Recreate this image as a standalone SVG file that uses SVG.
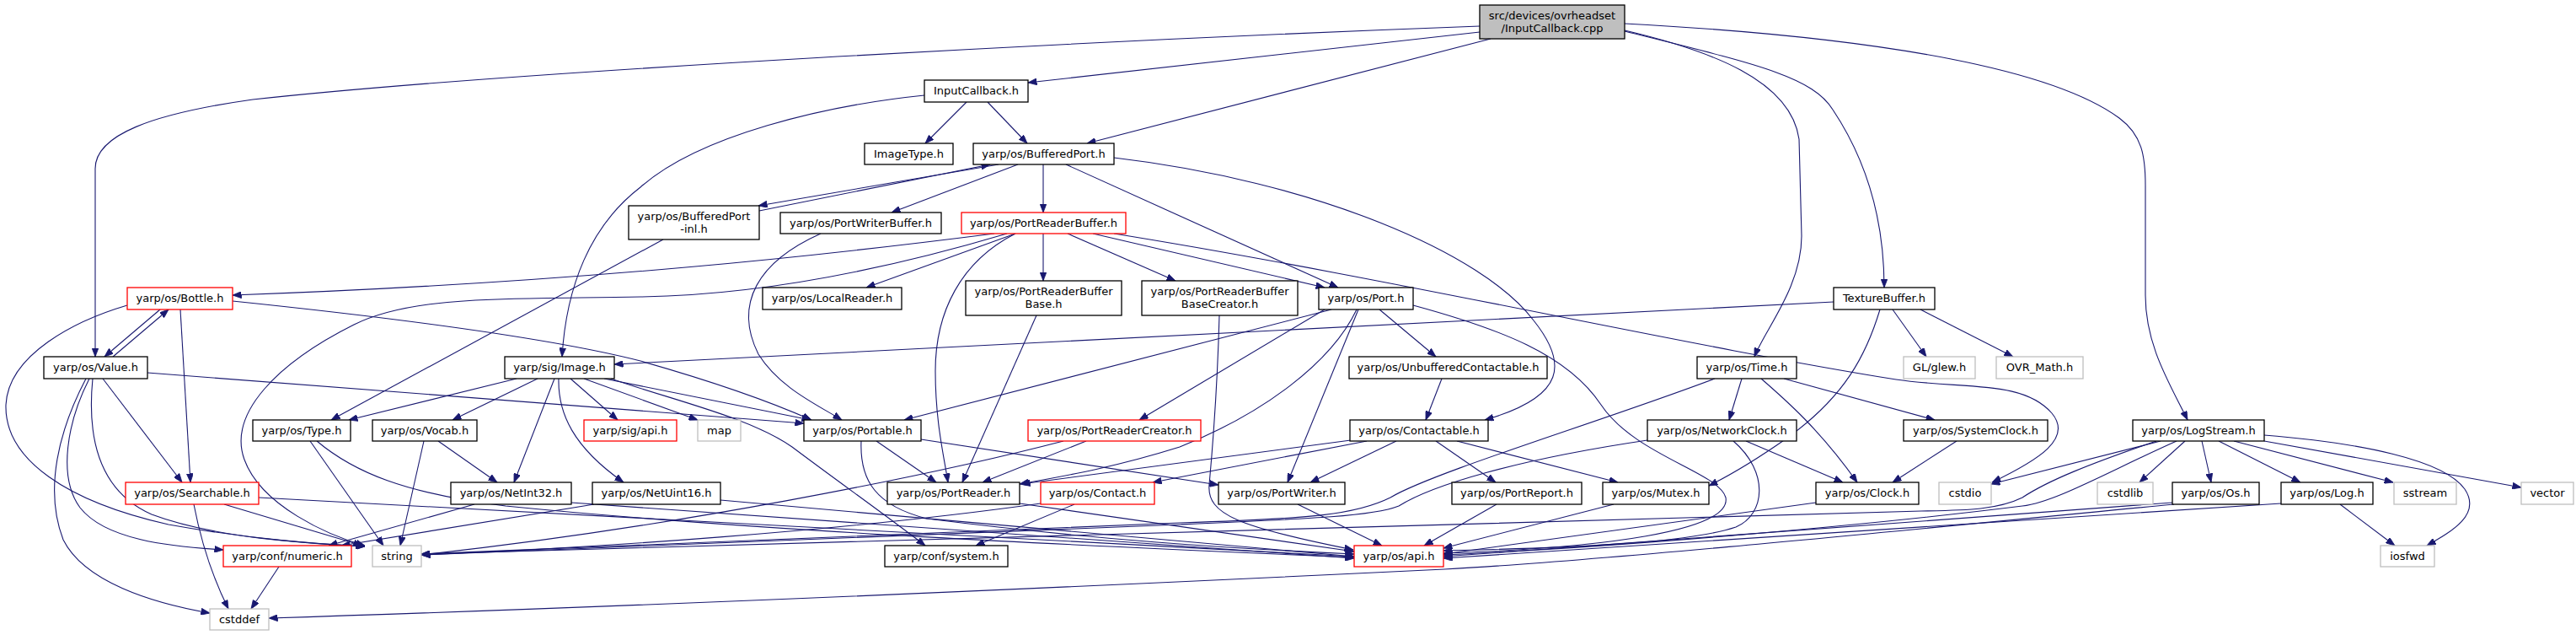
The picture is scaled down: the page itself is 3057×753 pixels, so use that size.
<svg xmlns="http://www.w3.org/2000/svg" width="3057" height="753" viewBox="0 0 3057 753">
<style>
.b{fill:#fff;stroke:#000;stroke-width:1.3}
.r{fill:#fff;stroke:#ff0000;stroke-width:1.3}
.g{fill:#fff;stroke:#bfbfbf;stroke-width:1.3}
.m{fill:#bfbfbf;stroke:#000;stroke-width:1.3}
text{font-family:"DejaVu Sans","Liberation Sans",sans-serif;font-size:13px;text-anchor:middle;fill:#000}
#edges path{fill:none;stroke:#191970;stroke-width:1.1;marker-end:url(#a)}
</style>
<defs>
<marker id="a" markerUnits="userSpaceOnUse" markerWidth="11" markerHeight="8" refX="10.5" refY="4" orient="auto">
<path d="M0,0 L10.5,4 L0,8 z" fill="#191970" stroke="#191970" stroke-width="0.8"/>
</marker>
</defs>
<rect width="3057" height="753" fill="#fff"/>
<g id="edges">
<path d="M1756,38 L1220,98"/>
<path d="M1769,46 L1290,170"/>
<path d="M1756,31 C1300,48 600,85 300,118 C180,135 113,160 113,200 L113,423"/>
<path d="M1928,36 C2030,60 2125,95 2135,165 L2138,280 C2138,340 2095,390 2082,423"/>
<path d="M1928,37 C2080,75 2150,90 2175,130 C2215,190 2236,260 2236,341"/>
<path d="M1928,28 C2250,45 2440,85 2515,140 C2542,160 2546,185 2546,220 L2546,350 C2546,410 2575,455 2596,498"/>
<path d="M1147,121 L1098,170"/>
<path d="M1172,121 L1219,170"/>
<path d="M1097,113 C980,125 830,160 760,222 C700,268 672,340 667,423"/>
<path d="M1185,195 L900,244"/>
<path d="M901,250 L1175,195"/>
<path d="M1208,195 L1058,252"/>
<path d="M1238,195 L1238,252"/>
<path d="M1265,195 L1588,341"/>
<path d="M1322,187 C1560,215 1760,300 1820,380 C1860,430 1860,470 1762,498"/>
<path d="M787,284 L393,498"/>
<path d="M974,277 C900,310 870,360 900,420 C925,460 970,480 999,498"/>
<path d="M1180,277 C1000,300 700,335 276,350"/>
<path d="M1195,277 C1050,320 900,350 760,352 C600,355 490,350 420,385 C330,430 270,490 290,545 C310,600 390,635 433,647"/>
<path d="M1205,277 L1028,341"/>
<path d="M1205,277 C1140,310 1110,370 1110,440 C1110,500 1120,540 1125,572"/>
<path d="M1238,277 L1238,333"/>
<path d="M1267,277 L1395,333"/>
<path d="M1297,277 L1572,341"/>
<path d="M1322,277 C1650,330 2000,410 2250,450 C2330,462 2400,450 2435,490 C2460,520 2420,545 2364,572"/>
<path d="M190,367 L124,423"/>
<path d="M134,423 L200,367"/>
<path d="M214,367 L226,572"/>
<path d="M276,357 C450,375 650,400 760,428 C820,445 900,470 963,498"/>
<path d="M151,362 C90,380 10,420 7,480 C5,545 80,595 200,622 C300,640 380,645 433,648"/>
<path d="M175,442 L954,502"/>
<path d="M122,449 L216,572"/>
<path d="M106,449 C80,500 68,565 95,602 C125,640 200,648 265,652"/>
<path d="M110,449 C104,510 112,580 180,610 C260,640 380,645 433,648"/>
<path d="M102,449 C70,510 52,580 75,640 C100,690 180,715 249,727"/>
<path d="M613,449 L414,498"/>
<path d="M638,449 L537,498"/>
<path d="M658,449 L610,572"/>
<path d="M663,449 C662,490 680,530 740,572"/>
<path d="M677,449 L733,498"/>
<path d="M693,449 L828,498"/>
<path d="M717,449 L962,498"/>
<path d="M725,449 C800,475 890,495 940,530 C1000,575 1050,610 1098,647"/>
<path d="M230,598 C240,650 255,690 271,722"/>
<path d="M266,598 L430,647"/>
<path d="M307,590 L1607,660"/>
<path d="M331,672 L298,722"/>
<path d="M368,523 L455,647"/>
<path d="M376,523 C420,560 480,585 600,600 C900,630 1300,648 1607,661"/>
<path d="M503,523 L475,647"/>
<path d="M520,523 L590,572"/>
<path d="M563,598 L390,647"/>
<path d="M678,596 L1607,662"/>
<path d="M705,598 L405,647"/>
<path d="M855,593 L1607,660"/>
<path d="M1040,523 L1111,572"/>
<path d="M1093,521 L1446,575"/>
<path d="M1022,523 C1020,570 1040,600 1100,615 C1300,640 1450,650 1607,657"/>
<path d="M1289,523 L1166,572"/>
<path d="M1262,523 C1100,565 800,625 500,658"/>
<path d="M1210,597 L1607,654"/>
<path d="M1275,598 L1158,647"/>
<path d="M1235,597 C1000,630 700,650 500,658"/>
<path d="M1230,374 L1142,572"/>
<path d="M1447,374 C1445,450 1440,520 1435,575 C1432,610 1470,625 1606,652"/>
<path d="M1580,367 L1073,498"/>
<path d="M1572,367 L1352,498"/>
<path d="M1610,367 C1580,430 1500,490 1400,530 C1320,555 1260,565 1210,574"/>
<path d="M1612,367 L1528,572"/>
<path d="M1637,367 L1704,423"/>
<path d="M1677,362 C1780,390 1860,420 1900,480 C1940,540 2040,560 2048,590 C2055,630 1900,650 1713,656"/>
<path d="M1711,449 L1692,498"/>
<path d="M1603,522 L1212,574"/>
<path d="M1622,523 L1368,572"/>
<path d="M1657,523 L1555,572"/>
<path d="M1704,523 L1775,572"/>
<path d="M1729,523 L1920,572"/>
<path d="M1540,598 L1640,647"/>
<path d="M1776,598 L1690,647"/>
<path d="M1915,598 L1713,650"/>
<path d="M2035,449 C1900,500 1700,560 1650,590 C1610,610 1560,615 1400,620 C1000,635 700,650 500,657"/>
<path d="M2067,449 L2052,498"/>
<path d="M2090,449 C2120,475 2160,510 2204,572"/>
<path d="M2117,449 L2296,498"/>
<path d="M1955,522 C1800,545 1700,575 1660,600 C1630,612 1560,615 1400,622 C1000,638 700,652 500,658"/>
<path d="M2072,523 L2187,572"/>
<path d="M2057,523 C2100,560 2095,610 2060,625 C2000,645 1850,650 1713,653"/>
<path d="M2322,523 L2246,572"/>
<path d="M2155,596 L1713,657"/>
<path d="M2176,358 L729,432"/>
<path d="M2246,367 L2286,423"/>
<path d="M2279,367 L2389,423"/>
<path d="M2231,367 C2215,420 2190,470 2120,520 C2080,548 2050,565 2028,576"/>
<path d="M2564,523 L2363,574"/>
<path d="M2559,523 C2480,550 2430,570 2400,590 C2370,605 2330,605 2280,606 C1500,630 900,650 500,657"/>
<path d="M2583,523 C2500,560 2440,595 2400,600 C2200,625 1900,650 1713,658"/>
<path d="M2593,523 L2539,572"/>
<path d="M2613,523 L2624,572"/>
<path d="M2633,523 L2730,572"/>
<path d="M2651,523 L2840,572"/>
<path d="M2687,523 L2992,578"/>
<path d="M2687,516 C2800,525 2900,545 2925,580 C2945,610 2910,630 2880,647"/>
<path d="M2578,596 L1713,660"/>
<path d="M2580,598 C2300,625 1900,665 1714,675 C1300,695 800,718 319,733"/>
<path d="M2777,598 L2842,647"/>
<path d="M2707,597 L1713,662"/>
</g>
<g id="n_main"><rect class="m" x="1756" y="6" width="172" height="40"/><text x="1842" y="23">src/devices/ovrheadset</text><text x="1842" y="37.5">/InputCallback.cpp</text></g>
<g id="n_inputcallback"><rect class="b" x="1097" y="95" width="123" height="26"/><text x="1158.5" y="112">InputCallback.h</text></g>
<g id="n_imagetype"><rect class="b" x="1026" y="170" width="105" height="25"/><text x="1078.5" y="187">ImageType.h</text></g>
<g id="n_bufferedport"><rect class="b" x="1155" y="170" width="167" height="25"/><text x="1238.5" y="187">yarp/os/BufferedPort.h</text></g>
<g id="n_bufferedport_inl"><rect class="b" x="746" y="244" width="155" height="40"/><text x="823.5" y="261">yarp/os/BufferedPort</text><text x="823.5" y="275.5">-inl.h</text></g>
<g id="n_portwriterbuffer"><rect class="b" x="926" y="252" width="191" height="25"/><text x="1021.5" y="269">yarp/os/PortWriterBuffer.h</text></g>
<g id="n_portreaderbuffer"><rect class="r" x="1141" y="252" width="195" height="25"/><text x="1238.5" y="269">yarp/os/PortReaderBuffer.h</text></g>
<g id="n_bottle"><rect class="r" x="151" y="341" width="125" height="26"/><text x="213.5" y="358">yarp/os/Bottle.h</text></g>
<g id="n_localreader"><rect class="b" x="905" y="341" width="165" height="26"/><text x="987.5" y="358">yarp/os/LocalReader.h</text></g>
<g id="n_prbbase"><rect class="b" x="1146" y="333" width="185" height="41"/><text x="1238.5" y="350">yarp/os/PortReaderBuffer</text><text x="1238.5" y="364.5">Base.h</text></g>
<g id="n_prbbasecreator"><rect class="b" x="1355" y="333" width="185" height="41"/><text x="1447.5" y="350">yarp/os/PortReaderBuffer</text><text x="1447.5" y="364.5">BaseCreator.h</text></g>
<g id="n_port"><rect class="b" x="1565" y="341" width="112" height="26"/><text x="1621" y="358">yarp/os/Port.h</text></g>
<g id="n_texturebuffer"><rect class="b" x="2176" y="341" width="120" height="26"/><text x="2236" y="358">TextureBuffer.h</text></g>
<g id="n_value"><rect class="b" x="52" y="423" width="123" height="26"/><text x="113.5" y="440">yarp/os/Value.h</text></g>
<g id="n_image"><rect class="b" x="599" y="423" width="130" height="26"/><text x="664" y="440">yarp/sig/Image.h</text></g>
<g id="n_unbuffered"><rect class="b" x="1601" y="423" width="235" height="26"/><text x="1718.5" y="440">yarp/os/UnbufferedContactable.h</text></g>
<g id="n_time"><rect class="b" x="2014" y="423" width="118" height="26"/><text x="2073" y="440">yarp/os/Time.h</text></g>
<g id="n_glew"><rect class="g" x="2259" y="423" width="85" height="26"/><text x="2301.5" y="440">GL/glew.h</text></g>
<g id="n_ovrmath"><rect class="g" x="2369" y="423" width="103" height="26"/><text x="2420.5" y="440">OVR_Math.h</text></g>
<g id="n_type"><rect class="b" x="300" y="498" width="116" height="25"/><text x="358" y="515">yarp/os/Type.h</text></g>
<g id="n_vocab"><rect class="b" x="442" y="498" width="124" height="25"/><text x="504" y="515">yarp/os/Vocab.h</text></g>
<g id="n_sigapi"><rect class="r" x="693" y="498" width="110" height="25"/><text x="748" y="515">yarp/sig/api.h</text></g>
<g id="n_map"><rect class="g" x="828" y="498" width="51" height="25"/><text x="853.5" y="515">map</text></g>
<g id="n_portable"><rect class="b" x="954" y="498" width="139" height="25"/><text x="1023.5" y="515">yarp/os/Portable.h</text></g>
<g id="n_portreadercreator"><rect class="r" x="1220" y="498" width="205" height="25"/><text x="1322.5" y="515">yarp/os/PortReaderCreator.h</text></g>
<g id="n_contactable"><rect class="b" x="1602" y="498" width="164" height="25"/><text x="1684" y="515">yarp/os/Contactable.h</text></g>
<g id="n_networkclock"><rect class="b" x="1955" y="498" width="177" height="25"/><text x="2043.5" y="515">yarp/os/NetworkClock.h</text></g>
<g id="n_systemclock"><rect class="b" x="2259" y="498" width="171" height="25"/><text x="2344.5" y="515">yarp/os/SystemClock.h</text></g>
<g id="n_logstream"><rect class="b" x="2531" y="498" width="156" height="25"/><text x="2609" y="515">yarp/os/LogStream.h</text></g>
<g id="n_searchable"><rect class="r" x="149" y="572" width="158" height="26"/><text x="228" y="589">yarp/os/Searchable.h</text></g>
<g id="n_netint32"><rect class="b" x="535" y="572" width="143" height="26"/><text x="606.5" y="589">yarp/os/NetInt32.h</text></g>
<g id="n_netuint16"><rect class="b" x="703" y="572" width="152" height="26"/><text x="779" y="589">yarp/os/NetUint16.h</text></g>
<g id="n_portreader"><rect class="b" x="1053" y="572" width="157" height="26"/><text x="1131.5" y="589">yarp/os/PortReader.h</text></g>
<g id="n_contact"><rect class="r" x="1235" y="572" width="135" height="26"/><text x="1302.5" y="589">yarp/os/Contact.h</text></g>
<g id="n_portwriter"><rect class="b" x="1446" y="572" width="150" height="26"/><text x="1521" y="589">yarp/os/PortWriter.h</text></g>
<g id="n_portreport"><rect class="b" x="1723" y="572" width="154" height="26"/><text x="1800" y="589">yarp/os/PortReport.h</text></g>
<g id="n_mutex"><rect class="b" x="1902" y="572" width="126" height="26"/><text x="1965" y="589">yarp/os/Mutex.h</text></g>
<g id="n_clock"><rect class="b" x="2155" y="572" width="122" height="26"/><text x="2216" y="589">yarp/os/Clock.h</text></g>
<g id="n_cstdio"><rect class="g" x="2301" y="572" width="62" height="26"/><text x="2332" y="589">cstdio</text></g>
<g id="n_cstdlib"><rect class="g" x="2489" y="572" width="66" height="26"/><text x="2522" y="589">cstdlib</text></g>
<g id="n_os"><rect class="b" x="2578" y="572" width="103" height="26"/><text x="2629.5" y="589">yarp/os/Os.h</text></g>
<g id="n_log"><rect class="b" x="2707" y="572" width="109" height="26"/><text x="2761.5" y="589">yarp/os/Log.h</text></g>
<g id="n_sstream"><rect class="g" x="2841" y="572" width="74" height="26"/><text x="2878" y="589">sstream</text></g>
<g id="n_vector"><rect class="g" x="2992" y="572" width="62" height="26"/><text x="3023" y="589">vector</text></g>
<g id="n_numeric"><rect class="r" x="265" y="647" width="152" height="25"/><text x="341" y="664">yarp/conf/numeric.h</text></g>
<g id="n_string"><rect class="g" x="442" y="647" width="58" height="25"/><text x="471" y="664">string</text></g>
<g id="n_system"><rect class="b" x="1050" y="647" width="146" height="25"/><text x="1123" y="664">yarp/conf/system.h</text></g>
<g id="n_api"><rect class="r" x="1607" y="647" width="106" height="25"/><text x="1660" y="664">yarp/os/api.h</text></g>
<g id="n_iosfwd"><rect class="g" x="2825" y="647" width="64" height="25"/><text x="2857" y="664">iosfwd</text></g>
<g id="n_cstddef"><rect class="g" x="249" y="722" width="70" height="25"/><text x="284" y="739">cstddef</text></g>
</svg>
